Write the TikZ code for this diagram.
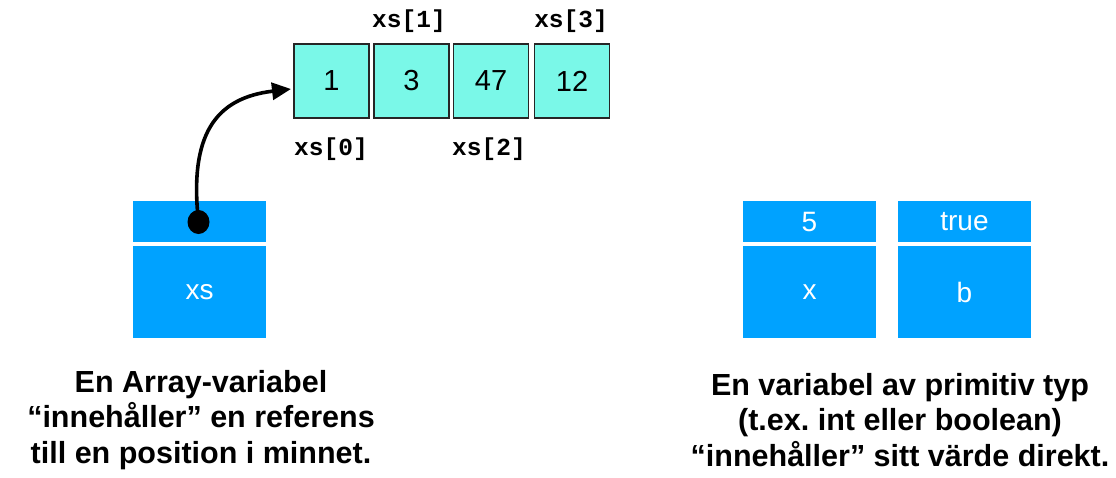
\documentclass[tikz,border=0pt]{standalone}
\usepackage{fontspec}
\setmainfont{Liberation Sans}
\newfontfamily\monob{Liberation Mono}
\usetikzlibrary{arrows.meta,shapes.geometric}
\definecolor{cellcyan}{HTML}{7AF8E8}
\definecolor{varblue}{HTML}{00A2FF}
\frenchspacing
\tikzset{
  arrcell/.style={draw=black!85, line width=1.8pt, fill=cellcyan, minimum width=75pt, minimum height=74pt, inner sep=0pt, font=\fontsize{29}{32}\selectfont},
  idxlabel/.style={font=\monob\bfseries\fontsize{24.5}{26}\selectfont, inner sep=0pt},
  topcell/.style={fill=varblue, text=white, minimum width=133pt, minimum height=41pt, inner sep=0pt, font=\fontsize{28}{30}\selectfont},
  botcell/.style={fill=varblue, text=white, minimum width=133pt, minimum height=92pt, inner sep=0pt, font=\fontsize{28}{30}\selectfont},
  caption/.style={align=center, font=\bfseries\fontsize{30.5}{35.5}\selectfont, inner sep=0pt}
}
\begin{document}
\begin{tikzpicture}[x=1pt,y=-1pt]
\useasboundingbox (0,0) rectangle (1116,477);
% array cells
\node[arrcell] (c0) at (331.5,81) {1};
\node[arrcell] (c1) at (411.5,81) {3};
\node[arrcell] (c2) at (491,81) {47};
\node[arrcell] (c3) at (572,81) {12};
% index labels
\node[idxlabel] (l1) at (409,21) {xs[1]};
\node[idxlabel] (l3) at (571,21) {xs[3]};
\node[idxlabel] (l0) at (331,149) {xs[0]};
\node[idxlabel] (l2) at (489,149) {xs[2]};
% left variable
\node[topcell] (xst) at (199.5,221.5) {};
\node[botcell] (xsb) at (199.5,292) {xs};
% right variables
\node[topcell] (xt) at (809.5,221.5) {5};
\node[botcell] (xb) at (809.5,292) {x};
\node[topcell] (bt) at (964.5,221.5) {true};
\node[botcell] (bb) at (964.5,292) {b};
% reference dot and arrow
\node[fill=black, ellipse, minimum width=22pt, minimum height=24pt, inner sep=0pt] (dot) at (198.5,222) {};
\coordinate (tip) at (291,89);
\draw[line width=3.6pt, -{Triangle[length=19pt,width=17pt]}] (dot.center) .. controls (189,135) and (215,98) .. (tip);
% captions
\node[caption] (capL) at (201,420) {En Array-variabel\\“innehåller” en referens\\till en position i minnet.};
\node[caption] (capR) at (900,420) {En variabel av primitiv typ\\(t.ex. int eller boolean)\\“innehåller” sitt värde direkt.};
\end{tikzpicture}
\end{document}
